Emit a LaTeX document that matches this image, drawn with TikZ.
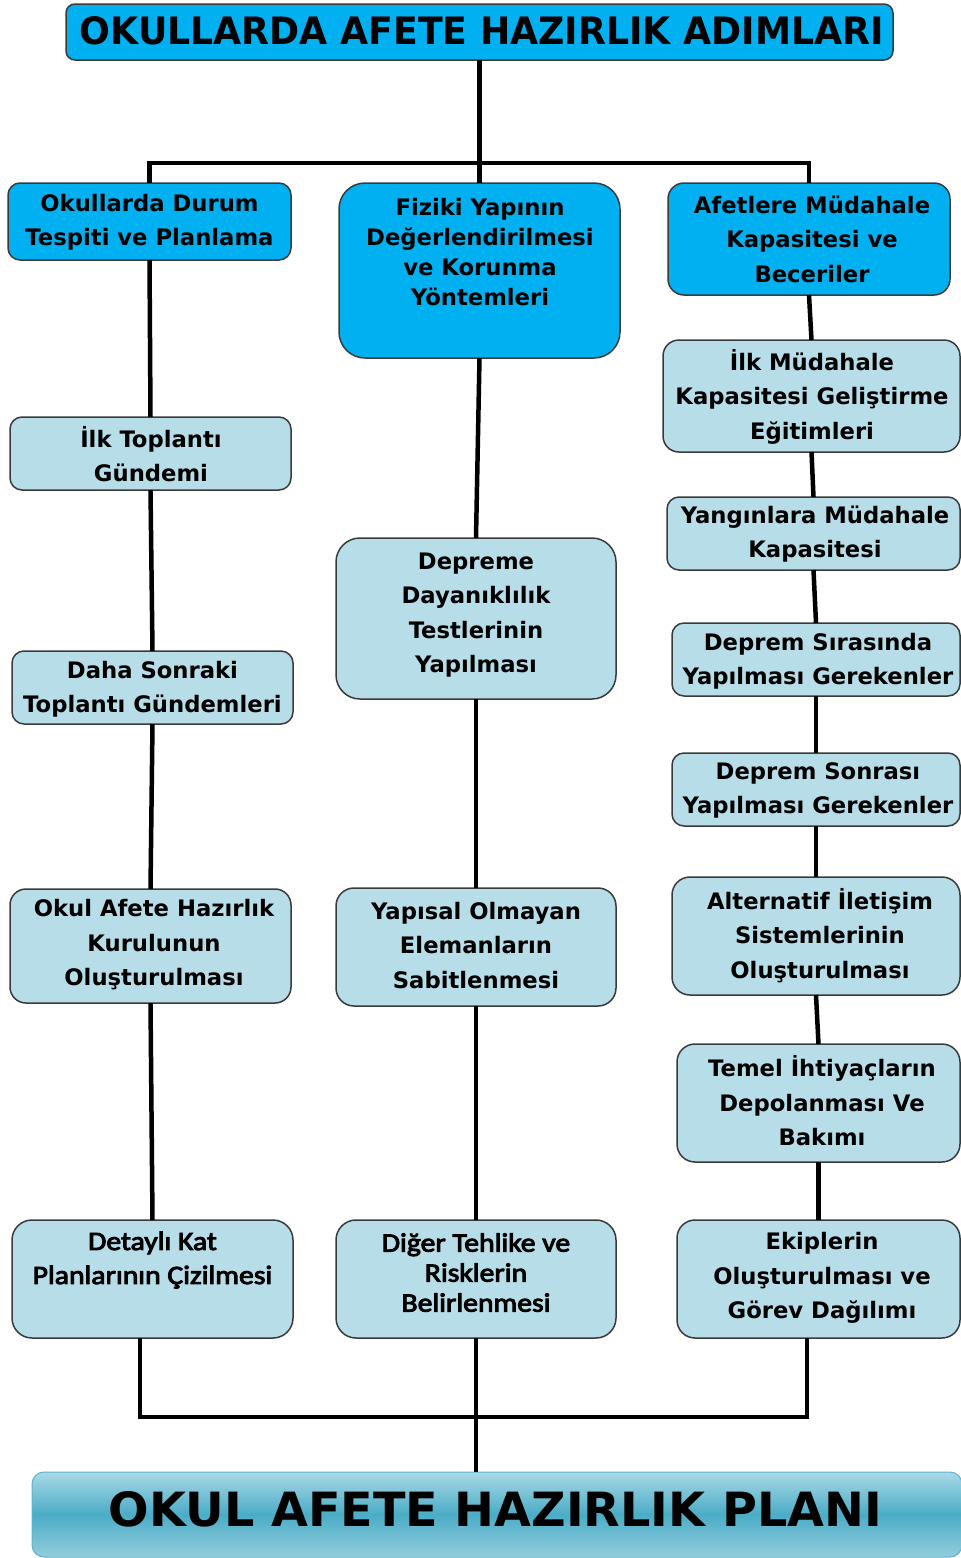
\documentclass[tikz,border=0pt]{standalone}
\usepackage{fontspec}
\usepackage{graphicx}
\setmainfont{DejaVu Sans}
\newfontfamily\calfont{Carlito}[BoldFont={Carlito}, BoldFeatures={FakeBold=3.5, FakeStretch=1.12}]
\definecolor{cyanfill}{HTML}{00B0F0}
\definecolor{lightfill}{HTML}{B7DEE8}
\definecolor{boxline}{HTML}{3A3A3A}
\definecolor{plantop}{HTML}{A9D9E7}
\definecolor{planmid}{HTML}{4BACC6}
\definecolor{planbot}{HTML}{93CDDD}
\definecolor{planline}{HTML}{5FB3CB}
\begin{document}
\begin{tikzpicture}[x=1pt,y=-1pt,
  box/.style={draw=boxline,line width=1.5pt,rounded corners=12pt,inner sep=0pt,outer sep=0pt},
  head/.style={box,fill=cyanfill},
  sub/.style={box,fill=lightfill},
  txt/.style={align=center,inner sep=0pt,text=black,font=\fontsize{22.7}{34.5}\selectfont\bfseries},
  txtb/.style={txt,font=\fontsize{22.7}{30}\selectfont\bfseries},
  ctxt/.style={align=center,inner sep=0pt,text=black,font=\calfont\fontsize{26.5}{34}\selectfont\bfseries},
  ctxtb/.style={ctxt,font=\calfont\fontsize{26.5}{30}\selectfont\bfseries},
  conn/.style={line width=4.5pt,black}]
\useasboundingbox (0,0) rectangle (961,1558);

% ---------- boxes ----------
\node[head,rounded corners=9pt,minimum width=827pt,minimum height=56pt] (title) at (479.5,32) {};
\node[head,minimum width=283pt,minimum height=77pt] (h1) at (149.5,221.5) {};
\node[head,rounded corners=26pt,minimum width=281pt,minimum height=175pt] (h2) at (479.5,270.5) {};
\node[head,rounded corners=16pt,minimum width=282pt,minimum height=112pt] (h3) at (809,239) {};

\node[sub,minimum width=281pt,minimum height=73pt] (c1a) at (150.5,453.5) {};
\node[sub,minimum width=281pt,minimum height=73pt] (c1b) at (152.5,687.5) {};
\node[sub,rounded corners=16pt,minimum width=281pt,minimum height=114pt] (c1c) at (150.5,946) {};
\node[sub,rounded corners=20pt,minimum width=281pt,minimum height=118pt] (c1d) at (152.5,1279) {};

\node[sub,rounded corners=24pt,minimum width=280pt,minimum height=161pt] (c2a) at (476,618.5) {};
\node[sub,rounded corners=18pt,minimum width=280pt,minimum height=118pt] (c2b) at (476,947) {};
\node[sub,rounded corners=20pt,minimum width=280pt,minimum height=118pt] (c2c) at (476,1279) {};

\node[sub,rounded corners=16pt,minimum width=297pt,minimum height=112pt] (c3a) at (811.5,396) {};
\node[sub,minimum width=293pt,minimum height=73pt] (c3b) at (813.5,533.5) {};
\node[sub,minimum width=288pt,minimum height=73pt] (c3c) at (816,659.5) {};
\node[sub,minimum width=288pt,minimum height=73pt] (c3d) at (816,789.5) {};
\node[sub,rounded corners=18pt,minimum width=288pt,minimum height=118pt] (c3e) at (816,936) {};
\node[sub,rounded corners=18pt,minimum width=283pt,minimum height=118pt] (c3f) at (818.5,1103) {};
\node[sub,rounded corners=18pt,minimum width=283pt,minimum height=118pt] (c3g) at (818.5,1279) {};

\node[draw=planline,line width=1pt,rounded corners=12pt,inner sep=0pt,outer sep=0pt,
      top color=plantop,bottom color=planbot,middle color=planmid,
      minimum width=930pt,minimum height=85pt] (plan) at (497,1514.5) {};

% ---------- connectors ----------
\coordinate (jt) at (480,163);
\draw[conn] (title.south) -- (h2.north);
\draw[conn] (h1.north) |- (jt) -| (h3.north);

\draw[conn] (h1.south) -- (c1a.north);
\draw[conn] (c1a.south) -- (c1b.north);
\draw[conn] (c1b.south) -- (c1c.north);
\draw[conn] (c1c.south) -- (c1d.north);

\draw[conn] (h2.south) -- (c2a.north);
\draw[conn] (c2a.south) -- (c2b.north);
\draw[conn] (c2b.south) -- (c2c.north);

\draw[conn] (h3.south) -- (c3a.north);
\draw[conn] (c3a.south) -- (c3b.north);
\draw[conn] (c3b.south) -- (c3c.north);
\draw[conn] (c3c.south) -- (c3d.north);
\draw[conn] (c3d.south) -- (c3e.north);
\draw[conn] (c3e.south) -- (c3f.north);
\draw[conn] (c3f.south) -- (c3g.north);

\coordinate (jb) at (477,1417);
\coordinate (b1) at (140,1338);
\coordinate (b3) at (807,1338);
\draw[conn] (b1) |- (jb) -| (b3);
\draw[conn] (c2c.south) -- (c2c.south |- plan.north);

% ---------- texts ----------
\node[txt] (ttitle) at (482,31) {\resizebox{804pt}{28pt}{OKULLARDA AFETE HAZIRLIK ADIMLARI}};
\node[txt] (th1) at (149.5,222) {Okullarda Durum\\Tespiti ve Planlama};
\node[txtb] (th2) at (480,252.5) {Fiziki Yapının\\Değerlendirilmesi\\ve Korunma\\Yöntemleri};
\node[txt] (th3) at (812,239) {Afetlere Müdahale\\Kapasitesi ve\\Beceriler};

\node[txt] (tc1a) at (151,454) {İlk Toplantı\\Gündemi};
\node[txt] (tc1b) at (152.5,689) {Daha Sonraki\\Toplantı Gündemleri};
\node[txt] (tc1c) at (154,945) {Okul Afete Hazırlık\\Kurulunun\\Oluşturulması};
\node[ctxt] (tc1d) at (152.5,1260) {Detaylı Kat\\Planlarının Çizilmesi};

\node[txt] (tc2a) at (476,615) {Depreme\\Dayanıklılık\\Testlerinin\\Yapılması};
\node[txt] (tc2b) at (476,945.5) {Yapısal Olmayan\\Elemanların\\Sabitlenmesi};
\node[ctxtb] (tc2c) at (476,1272.5) {Diğer Tehlike ve\\Risklerin\\Belirlenmesi};

\node[txt] (tc3a) at (812,396.5) {İlk Müdahale\\Kapasitesi Geliştirme\\Eğitimleri};
\node[txt] (tc3b) at (815,534) {Yangınlara Müdahale\\Kapasitesi};
\node[txt] (tc3c) at (818,661) {Deprem Sırasında\\Yapılması Gerekenler};
\node[txt] (tc3d) at (818,790.5) {Deprem Sonrası\\Yapılması Gerekenler};
\node[txt] (tc3e) at (820,935.5) {Alternatif İletişim\\Sistemlerinin\\Oluşturulması};
\node[txt] (tc3f) at (822,1101) {Temel İhtiyaçların\\Depolanması Ve\\Bakımı};
\node[txt] (tc3g) at (822,1278) {Ekiplerin\\Oluşturulması ve\\Görev Dağılımı};

\node[txt] (tplan) at (495.5,1509.5) {\resizebox{773pt}{35pt}{OKUL AFETE HAZIRLIK PLANI}};
\end{tikzpicture}
\end{document}
